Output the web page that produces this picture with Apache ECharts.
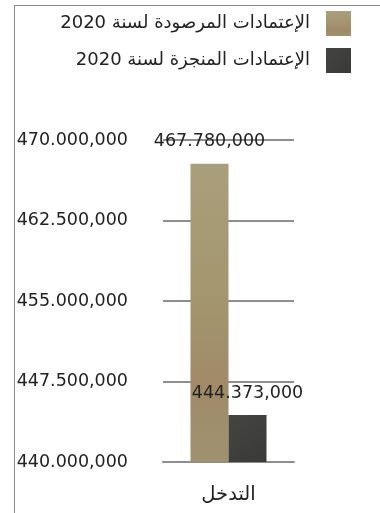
<!DOCTYPE html>
<html>
<head>
<meta charset="utf-8">
<script src="https://cdn.jsdelivr.net/npm/echarts@6/dist/echarts.min.js"></script>
<style>
html,body{margin:0;padding:0;background:#fff;}
#c{width:380px;height:513px;}
</style>
</head>
<body>
<div id="c"></div>
<script>
var categories = ['التدخل'];
var seriesNames = ['الإعتمادات المرصودة لسنة 2020', 'الإعتمادات المنجزة لسنة 2020'];
var plannedValues = [467780000];
var achievedValues = [444373000];
var yMin = 440000000, yMax = 470000000, yStep = 7500000;
var tickLabels = ['440.000,000', '447.500,000', '455.000,000', '462.500,000', '470.000,000'];

function fmtValue(v) {
  var s = String(Math.round(v));
  var groups = [];
  while (s.length > 3) { groups.unshift(s.slice(-3)); s = s.slice(0, -3); }
  groups.unshift(s);
  var out = groups[0];
  for (var i = 1; i < groups.length; i++) out += (i === 1 ? '.' : ',') + groups[i];
  return out;
}
function rtl(t) { return '\u2067' + t + '\u2069'; }

var FONT = '"DejaVu Sans", sans-serif';
var chart = echarts.init(document.getElementById('c'), null, {renderer: 'canvas'});
var tan = new echarts.graphic.LinearGradient(0, 0, 0, 1, [
  {offset: 0, color: '#aa9f7b'},
  {offset: 0.45, color: '#a3966f'},
  {offset: 0.75, color: '#a08a68'},
  {offset: 1, color: '#9e9270'}
]);
var dark = new echarts.graphic.LinearGradient(0, 0, 1, 1, [
  {offset: 0, color: '#444442'},
  {offset: 1, color: '#3a3a38'}
]);
var labelStyle = {
  show: true, position: 'top', distance: 13,
  fontFamily: FONT, fontSize: 17.5, color: '#222',
  formatter: function (p) { return fmtValue(p.value); }
};
chart.setOption({
  animation: false,
  textStyle: {fontFamily: FONT},
  legend: {
    orient: 'vertical', right: 29, top: 11, padding: 0,
    align: 'right', icon: 'rect',
    itemWidth: 25, itemHeight: 25, itemGap: 12,
    textStyle: {fontFamily: FONT, fontSize: 18, color: '#222', padding: [0, 11, 0, 0]},
    formatter: function (n) { return rtl(n); },
    data: seriesNames
  },
  grid: {left: 163, right: 86, top: 140, bottom: 51},
  xAxis: {
    type: 'category', data: categories,
    axisLine: {show: true, lineStyle: {color: '#8e8e8e', width: 2}},
    axisTick: {show: false},
    axisLabel: {margin: 23, fontFamily: FONT, fontSize: 19.5, color: '#222'}
  },
  yAxis: {
    type: 'value', min: yMin, max: yMax, interval: yStep,
    axisLine: {show: false}, axisTick: {show: false},
    splitLine: {lineStyle: {color: '#8e8e8e', width: 2}},
    axisLabel: {
      margin: 35, fontFamily: FONT, fontSize: 17.5, color: '#222',
      formatter: function (v) { return tickLabels[Math.round((v - yMin) / yStep)]; }
    }
  },
  series: [
    {name: seriesNames[0], type: 'bar', data: plannedValues, barWidth: 38, barGap: '0%',
     itemStyle: {color: tan}, label: labelStyle},
    {name: seriesNames[1], type: 'bar', data: achievedValues, barWidth: 38,
     itemStyle: {color: dark}, label: labelStyle}
  ],
  graphic: [
    {type: 'line', shape: {x1: 14.5, y1: 5, x2: 14.5, y2: 513}, style: {stroke: '#8a8a8a', lineWidth: 1}, silent: true},
    {type: 'line', shape: {x1: 14, y1: 5.5, x2: 380, y2: 5.5}, style: {stroke: '#8a8a8a', lineWidth: 1}, silent: true}
  ]
});
</script>
</body>
</html>
